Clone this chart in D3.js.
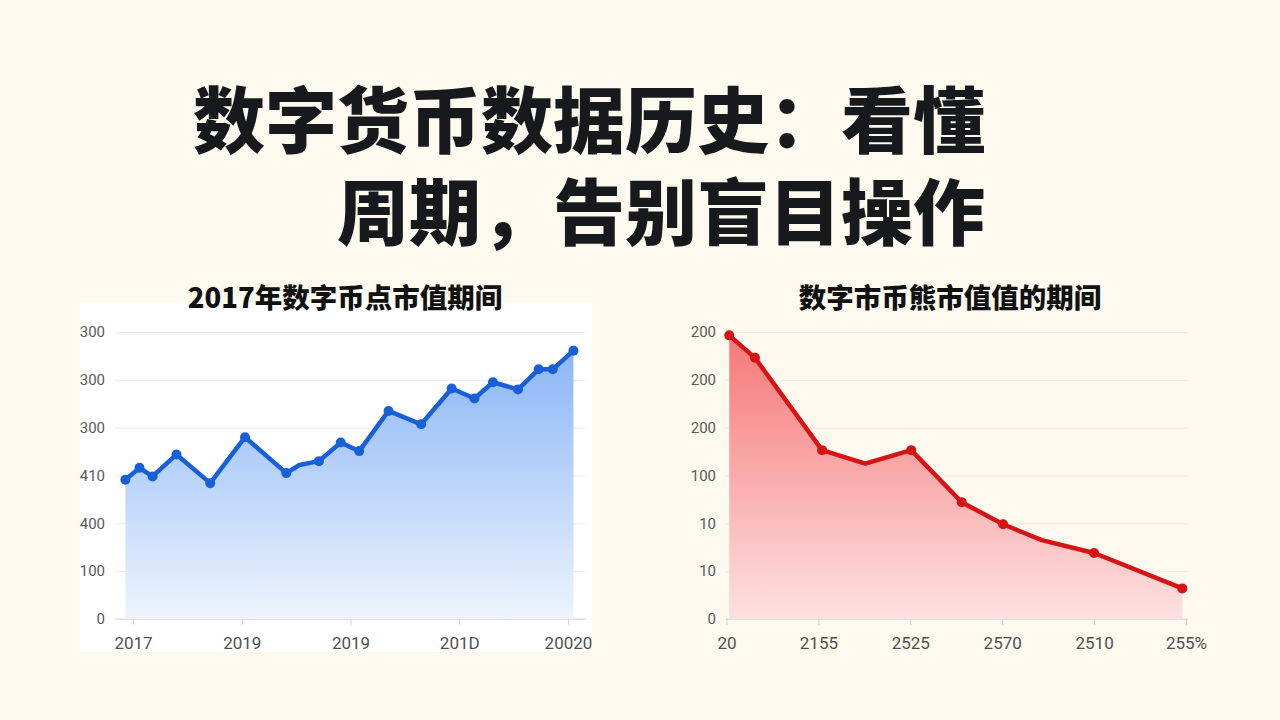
<!DOCTYPE html>
<html>
<head>
<meta charset="utf-8">
<script src="https://cdn.jsdelivr.net/npm/d3@7"></script>
<style>
  body { margin: 0; background: #fcf9ef; }
  svg { display: block; }
</style>
</head>
<body>
<div id="chart"></div>
<script>

// Page size
const width = 1280;
const height = 720;

// Titles
const titleLines = ["数字货币数据历史：看懂", "周期，告别盲目操作"];
const leftTitle = "2017年数字币点市值期间";
const rightTitle = "数字市币熊市值值的期间";

// Left chart data (x in tick periods, y in axis units)
const leftX = [-0.07, 0.06, 0.18, 0.40, 0.71, 1.03, 1.41, 1.53, 1.71, 1.91,
               2.08, 2.35, 2.65, 2.93, 3.14, 3.31, 3.54, 3.73, 3.86, 4.05];
const leftY = [291, 316, 298, 344, 284, 380, 305, 322, 330, 369,
               351, 435, 407, 482, 461, 495, 480, 522, 522, 561];
const leftMarked = [1,1,1,1,1,1,1,0,1,1,1,1,1,1,1,1,1,1,1,1];
const leftXTicks = ["2017", "2019", "2019", "201D", "20020"];
const leftYTicks = ["0", "100", "400", "410", "300", "300", "300"];

// Right chart data
const rightX = [0.03, 0.31, 1.04, 1.51, 2.01, 2.56, 3.01, 3.43, 4.00, 4.96];
const rightY = [5.93, 5.46, 3.53, 3.25, 3.53, 2.44, 1.98, 1.65, 1.38, 0.64];
const rightMarked = [1,1,1,0,1,1,1,0,1,1];
const rightXTicks = ["20", "2155", "2525", "2570", "2510", "255%"];
const rightYTicks = ["0", "10", "10", "100", "200", "200", "200"];

const svg = d3.select("#chart")
  .append("svg")
  .attr("width", width)
  .attr("height", height)
  .attr("viewBox", [0, 0, width, height]);

svg.append("rect")
  .attr("width", width)
  .attr("height", height)
  .attr("fill", "#fcf9ef");

const cjk = "'Noto Sans CJK SC', 'Noto Sans', sans-serif";
const latin = "Roboto, 'Liberation Sans', sans-serif";

// Main title, right aligned on both lines
svg.append("g")
  .selectAll("text")
  .data(titleLines)
  .join("text")
    .attr("x", 985)
    .attr("y", (d, i) => 147 + i * 92)
    .attr("text-anchor", "end")
    .attr("font-family", cjk)
    .attr("font-weight", 900)
    .attr("font-size", 72)
    .attr("fill", "#17191c")
    .text(d => d);

// gradients for the areas
const defs = svg.append("defs");
function gradient(id, top, bottom) {
  const g = defs.append("linearGradient")
    .attr("id", id)
    .attr("gradientUnits", "userSpaceOnUse")
    .attr("x1", 0).attr("x2", 0)
    .attr("y1", 332).attr("y2", 619);
  g.append("stop").attr("offset", 0).attr("stop-color", top);
  g.append("stop").attr("offset", 1).attr("stop-color", bottom);
}
gradient("blueFill", "#84b2f6", "#eef4fd");
gradient("redFill", "#f67676", "#fde1e1");

// white panel behind the left chart
svg.append("rect")
  .attr("x", 80).attr("y", 302)
  .attr("width", 512).attr("height", 350)
  .attr("fill", "#ffffff");

function drawChart(opt) {
  const g = svg.append("g");

  const xScale = d3.scaleLinear()
    .domain([0, opt.xTicks.length - 1])
    .range(opt.xRange);

  const yScale = d3.scaleLinear()
    .domain(opt.yDomain)
    .range([619, 332]);

  const yTickVals = d3.range(opt.yTicks.length).map(i => opt.yDomain[1] / (opt.yTicks.length - 1) * i);

  // title
  g.append("text")
    .attr("x", opt.titleX)
    .attr("y", 308)
    .attr("text-anchor", "middle")
    .attr("font-family", cjk)
    .attr("font-weight", 900)
    .attr("font-size", 27.5)
    .attr("fill", "#111")
    .text(opt.title);

  // gridlines + y labels
  const yAxis = g.append("g")
    .attr("transform", `translate(${opt.gridRange[0]},0)`)
    .call(d3.axisLeft(yScale)
      .tickValues(yTickVals)
      .tickSize(-(opt.gridRange[1] - opt.gridRange[0]))
      .tickPadding(10)
      .tickFormat((d, i) => opt.yTicks[i]));
  yAxis.select(".domain").remove();
  yAxis.selectAll("line").attr("stroke", "#ebebeb");
  yAxis.selectAll("text")
    .attr("font-family", latin)
    .attr("font-size", 15)
    .attr("fill", "#5a5a5a");

  // x axis
  const xAxis = g.append("g")
    .attr("transform", "translate(0,619)")
    .call(d3.axisBottom(xScale)
      .tickValues(d3.range(opt.xTicks.length))
      .tickSize(6)
      .tickPadding(12)
      .tickFormat((d, i) => opt.xTicks[i]));
  xAxis.select(".domain")
    .attr("d", `M${opt.gridRange[0]},0H${opt.gridRange[1]}`)
    .attr("stroke", "#d5d5d5");
  xAxis.selectAll("line").attr("stroke", "#d5d5d5");
  xAxis.selectAll("text")
    .attr("font-family", latin)
    .attr("font-size", 17)
    .attr("fill", "#505050");

  const pts = opt.xs.map((x, i) => ({x: x, y: opt.ys[i], m: opt.marked[i]}));

  // area under the line
  g.append("path")
    .datum(pts)
    .attr("fill", `url(#${opt.fill})`)
    .attr("d", d3.area()
      .x(d => xScale(d.x))
      .y0(yScale(0))
      .y1(d => yScale(d.y)));

  // line
  g.append("path")
    .datum(pts)
    .attr("fill", "none")
    .attr("stroke", opt.color)
    .attr("stroke-width", 4.5)
    .attr("stroke-linejoin", "round")
    .attr("d", d3.line()
      .x(d => xScale(d.x))
      .y(d => yScale(d.y)));

  // markers
  g.selectAll(".dot")
    .data(pts.filter(d => d.m))
    .join("circle")
      .attr("class", "dot")
      .attr("cx", d => xScale(d.x))
      .attr("cy", d => yScale(d.y))
      .attr("r", 5)
      .attr("fill", opt.color);
}

drawChart({
  title: leftTitle, titleX: 345,
  xs: leftX, ys: leftY, marked: leftMarked,
  xTicks: leftXTicks, yTicks: leftYTicks,
  xRange: [133, 568], gridRange: [115, 585],
  yDomain: [0, 600],
  color: "#1860d8", fill: "blueFill"
});

drawChart({
  title: rightTitle, titleX: 950,
  xs: rightX, ys: rightY, marked: rightMarked,
  xTicks: rightXTicks, yTicks: rightYTicks,
  xRange: [726.5, 1186], gridRange: [726, 1188],
  yDomain: [0, 6],
  color: "#d51515", fill: "redFill"
});

</script>
</body>
</html>
